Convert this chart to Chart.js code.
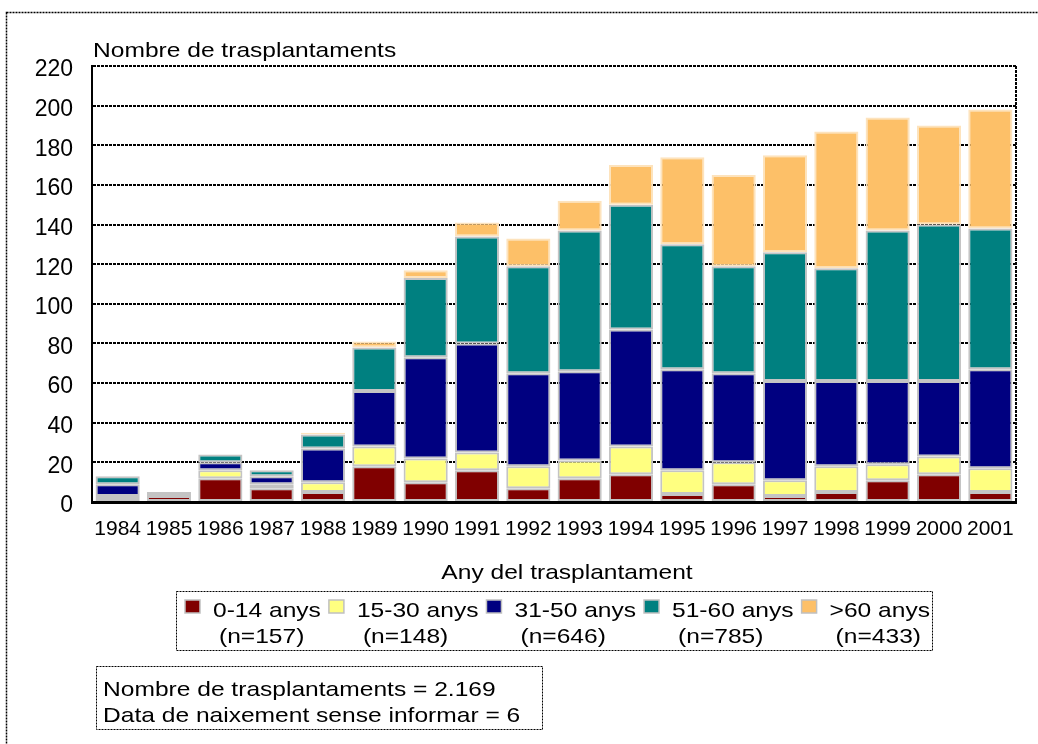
<!DOCTYPE html>
<html>
<head>
<meta charset="utf-8">
<title>Trasplantaments per any i grup d'edat</title>
<script src="https://cdn.jsdelivr.net/npm/chart.js@4.4.0/dist/chart.umd.min.js"></script>
<style>
  html, body { margin: 0; padding: 0; background: #fff; }
  #wrap { width: 1038px; height: 744px; }
</style>
</head>
<body>
<div id="wrap"><canvas id="trasplantChart" width="1038" height="744"></canvas></div>
<script>
// anys del trasplantament
const years = ['1984', '1985', '1986', '1987', '1988', '1989', '1990', '1991', '1992',
               '1993', '1994', '1995', '1996', '1997', '1998', '1999', '2000', '2001'];

// trasplantaments per grup d'edat (llegits del grafic)
const edat0_14  = [1, 3, 12, 7, 5, 18, 10, 16, 7, 12, 14, 4, 9, 3, 5, 11, 14, 5];
const edat15_30 = [2, 1, 4, 2, 5, 10, 12, 9, 11, 9, 14, 12, 11, 8, 13, 8, 9, 12];
const edat31_50 = [6, 1, 4, 4, 17, 28, 51, 55, 47, 45, 59, 51, 45, 50, 43, 42, 38, 50];
const edat51_60 = [4, 0, 4, 3, 7, 22, 40, 54, 54, 71, 63, 63, 54, 65, 57, 76, 79, 71];
const edat60    = [0, 0, 0, 0, 1, 3, 4, 7, 14, 15, 20, 44, 46, 49, 69, 57, 50, 60];

const groupLabels = ['0-14 anys', '15-30 anys', '31-50 anys', '51-60 anys', '>60 anys'];
const groupCounts = [157, 148, 646, 785, 433];

const yTitle = 'Nombre de trasplantaments';
const xTitle = 'Any del trasplantament';
const totalTrasplants = '2.169';
const senseData = 6;

const FONT = '"Liberation Sans", Arial, Helvetica, sans-serif';
Chart.defaults.font.family = FONT;
Chart.defaults.color = '#000';

// text una mica eixamplat, com a l'original
function wideText(ctx, text, x, y, size) {
    const sx = 1.17;
    ctx.save();
    ctx.font = size + 'px ' + FONT;
    ctx.fillStyle = '#000';
    ctx.textBaseline = 'alphabetic';
    ctx.textAlign = 'left';
    const w = ctx.measureText(text).width * sx;
    ctx.translate(x, y);
    ctx.scale(sx, 1);
    ctx.fillText(text, 0, 0);
    ctx.restore();
    return w;
}

const decorations = {
    id: 'decorations',
    afterDraw(chart) {
        const ctx = chart.ctx;
        const area = chart.chartArea;

        ctx.save();
        // marc exterior
        ctx.strokeStyle = '#000';
        ctx.lineWidth = 1.5;
        ctx.setLineDash([2, 1]);
        ctx.strokeRect(6.5, 12.5, 1100, 800);

        // costat dret de l'area del grafic
        ctx.lineWidth = 2;
        ctx.setLineDash([3, 1]);
        ctx.beginPath();
        ctx.moveTo(area.right, area.top);
        ctx.lineTo(area.right, area.bottom);
        ctx.stroke();
        ctx.restore();

        // titols dels eixos
        wideText(ctx, yTitle, area.left + 1, 57, 21);
        ctx.save();
        ctx.font = '21px ' + FONT;
        const xw = ctx.measureText(xTitle).width * 1.17;
        ctx.restore();
        wideText(ctx, xTitle, 567 - xw / 2, 579, 21);

        // llegenda
        ctx.save();
        ctx.strokeStyle = '#000';
        ctx.lineWidth = 1;
        ctx.setLineDash([2, 1]);
        ctx.strokeRect(176.5, 591.5, 756, 59);
        ctx.restore();

        let x = 185;
        chart.data.datasets.forEach((ds, i) => {
            ctx.save();
            ctx.fillStyle = ds.backgroundColor;
            ctx.fillRect(x, 600, 15, 13);
            ctx.strokeStyle = '#c0c0c0';
            ctx.lineWidth = 1.5;
            ctx.strokeRect(x, 600, 15, 13);
            ctx.restore();
            const tx = x + 28;
            const w = wideText(ctx, ds.label, tx, 617, 21);
            wideText(ctx, '(n=' + groupCounts[i] + ')', tx + 6, 643, 21);
            x = tx + w + 8;
        });

        // nota
        ctx.save();
        ctx.strokeStyle = '#000';
        ctx.lineWidth = 1;
        ctx.setLineDash([2, 1]);
        ctx.strokeRect(96.5, 666.5, 446, 63);
        ctx.restore();
        wideText(ctx, 'Nombre de trasplantaments = ' + totalTrasplants, 103, 696, 21);
        wideText(ctx, 'Data de naixement sense informar = ' + senseData, 103, 722, 21);
    }
};

const series = [edat0_14, edat15_30, edat31_50, edat51_60, edat60];
const fills = ['#800000', '#ffff80', '#000080', '#008080', '#fdc068'];
const edges = ['#c4c4c4', '#c4c4c4', '#c4c4c4', '#c4c4c4', '#fde3bd'];

const canvas = document.getElementById('trasplantChart').getContext('2d');
const trasplantChart = new Chart(canvas, {
    type: 'bar',
    data: {
        labels: years,
        datasets: series.map((values, i) => ({
            label: groupLabels[i],
            data: values,
            backgroundColor: fills[i],
            borderColor: edges[i],
            borderWidth: 2,
            borderSkipped: false,
            barPercentage: 0.86,
            categoryPercentage: 1.0
        }))
    },
    options: {
        responsive: false,
        animation: false,
        layout: {
            padding: { top: 66, right: 22, bottom: 182, left: 0 }
        },
        plugins: {
            legend: { display: false },
            tooltip: { enabled: false }
        },
        scales: {
            x: {
                stacked: true,
                afterFit(scale) { scale.height = 60; },
                grid: { display: false, drawTicks: false },
                border: { display: true, color: '#000', width: 3, dash: [3, 1] },
                ticks: {
                    font: { size: 21 },
                    color: '#000',
                    padding: 15,
                    autoSkip: false,
                    maxRotation: 0
                }
            },
            y: {
                stacked: true,
                min: 0,
                max: 220,
                afterFit(scale) { scale.width = 92; },
                grid: { color: '#000', lineWidth: 2, drawTicks: false },
                border: { display: true, color: '#000', width: 2, dash: [3, 1] },
                ticks: {
                    stepSize: 20,
                    font: { size: 23 },
                    color: '#000',
                    padding: 19,
                    labelOffset: 4
                }
            }
        }
    },
    plugins: [decorations]
});
</script>
</body>
</html>
